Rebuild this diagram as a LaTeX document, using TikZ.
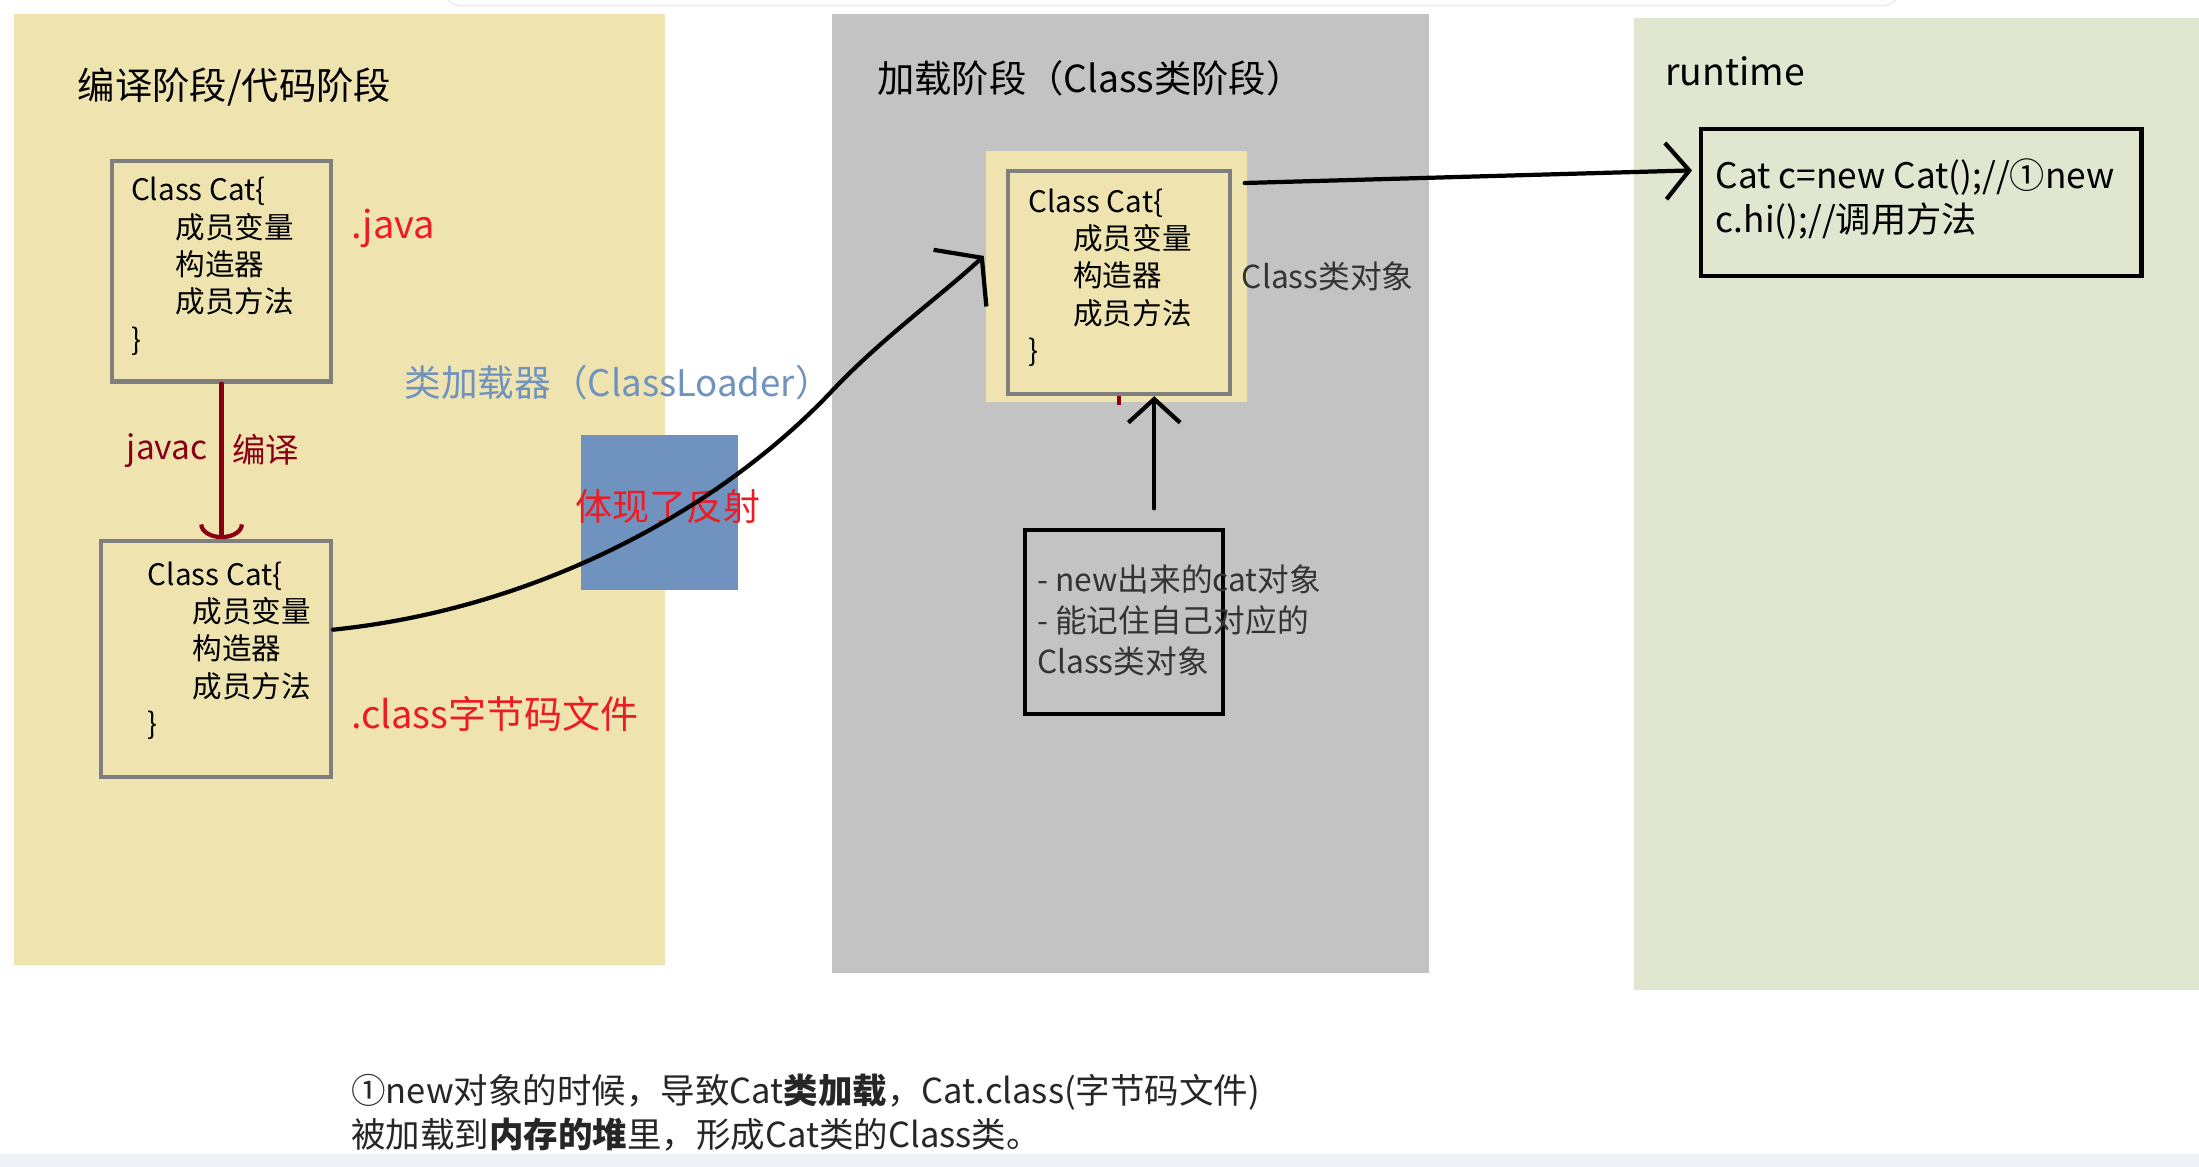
\documentclass[tikz,border=0pt]{standalone}
\usepackage{fontspec}
\setmainfont{Noto Sans CJK SC}
\usepackage{tikz}
\usetikzlibrary{arrows.meta,calc,fit}
\definecolor{stageyellow}{HTML}{EFE4B0}
\definecolor{stagegray}{HTML}{C3C3C3}
\definecolor{stagegreen}{HTML}{E1E6D1}
\definecolor{boxgray}{HTML}{7F7F7F}
\definecolor{paintred}{HTML}{ED1C24}
\definecolor{darkred}{HTML}{880015}
\definecolor{loaderblue}{HTML}{7092BE}
\definecolor{textgray}{HTML}{333333}
\definecolor{pagestrip}{HTML}{EEF0F5}
\newcommand{\catsource}{Class Cat\{\\\hspace*{12.7pt}成员变量\\\hspace*{12.7pt}构造器\\\hspace*{12.7pt}成员方法\\\}}

\begin{document}
\begin{tikzpicture}[x=0.14mm, y=-0.14mm,
    codebox/.style={draw=boxgray, line width=1.2pt, inner sep=0pt},
    blackbox/.style={draw=black, line width=1.2pt, inner sep=0pt},
    codetext/.style={anchor=north west, align=left, inner sep=0pt, font=\fontsize{8.4}{10.6}\selectfont},
    stagetitle/.style={anchor=west, inner sep=0pt, font=\fontsize{10.6}{12}\selectfont},
    redlabel/.style={anchor=west, inner sep=0pt, text=paintred, font=\fontsize{10.8}{12}\selectfont},
    handline/.style={line width=1.2pt, line cap=round, line join=round}]
    \useasboundingbox (0,0) rectangle (1568,832);
    % page
    \fill[white] (0,0) rectangle (1568,832);
    \fill[pagestrip] (0,823) rectangle (1568,832);
    \draw[black!8, fill=white, rounded corners=2mm] (315,-20) rectangle (1356,4);

    % === Stages ===
    \fill[stageyellow] (10,10) rectangle (474,688);
    \fill[stagegray] (593,10) rectangle (1019,694);
    \fill[stagegreen] (1165,13) rectangle (1568,706);
    \node[stagetitle] (compiletitle) at (55,62) {编译阶段/代码阶段};
    \node[stagetitle] (loadtitle) at (625,56) {加载阶段（Class类阶段）};
    \node[stagetitle] (runtitle) at (1187,51) {runtime};

    % === Compile stage ===
    \node[codebox, fit={(80,115) (236,272)}] (javabox) {};
    \node[codetext] (javacode) at (93,126) {\catsource};
    \node[redlabel] (javaext) at (250,163) {.java};

    \node[codebox, fit={(72,386) (236,554)}] (classbox) {};
    \node[codetext] (classcode) at (105,400) {\catsource};
    \node[redlabel] (classext) at (250,509) {.class字节码文件};

    \node[anchor=west, inner sep=0pt, text=darkred, font=\fontsize{9.5}{11}\selectfont] (javaclabel) at (90,321) {javac};
    \node[anchor=west, inner sep=0pt, text=darkred, font=\fontsize{9.5}{11}\selectfont] (compilelabel) at (165,321) {编译};

    % class loader
    \node[anchor=west, inner sep=0pt, text=loaderblue, font=\fontsize{10.4}{12}\selectfont] (loaderlabel) at (288,273) {类加载器（ClassLoader）};
    \node[fill=loaderblue, inner sep=0pt, fit={(414,310) (526,421)}] (reflectbox) {};
    \node[inner sep=0pt, text=paintred, font=\fontsize{10.5}{12}\selectfont] (reflectlabel) at (476,361) {体现了反射};

    % === Load stage ===
    \node[fill=stageyellow, inner sep=0pt, fit={(703,108) (889,287)}] (loadbg) {};
    \node[codebox, fit={(719,122) (877,281)}] (loadbox) {};
    \node[codetext] (loadcode) at (733,134) {\catsource};
    \node[anchor=west, inner sep=0pt, text=textgray, font=\fontsize{9}{11}\selectfont] (classobj) at (885,197) {Class类对象};

    \node[blackbox, fit={(731,378) (872,509)}] (newbox) {};
    \node[anchor=north west, align=left, inner sep=0pt, text=textgray, font=\fontsize{9}{11.7}\selectfont] (newnote) at (739,402) {- new出来的cat对象\\- 能记住自己对应的\\Class类对象};

    % === Runtime ===
    \node[blackbox, fit={(1213,92) (1527,197)}] (runbox) {};
    \node[anchor=north west, align=left, inner sep=0pt, font=\fontsize{10}{12.3}\selectfont] (runcode) at (1223,113) {Cat c=new Cat();//①new\\c.hi();//调用方法};

    % Connectors
    \draw[handline, darkred, -{Arc Barb[width=12.7pt, length=4.2pt]}] (javabox.south) -- (javabox.south |- classbox.north);
    \draw[handline, -{Straight Barb[width=22pt, length=8.5pt]}] ($(classbox.east)+(0,-21)$) .. controls (384,434) and (514,363) .. (594,278) .. controls (629,241) and (672,210) .. ($(loadbg.west)+(-1,-15)$);
    \draw[handline, -{Straight Barb[width=16pt, length=6.7pt]}] ($(loadbg.north east)+(-2,23)$) -- ($(runbox.west)+(-5,-23)$);
    \coordinate (newtop) at ($(newbox.north)+(21.5,-14)$);
    \draw[handline, -{Straight Barb[width=14.7pt, length=6.7pt]}] (newtop) -- (newtop |- loadbox.south);
    \draw[darkred, line width=1.2pt] (loadbox.south) -- ++(0,6);

    % note below
    \node[anchor=north west, align=left, inner sep=0pt, text=black!85, font=\fontsize{9.8}{12.7}\selectfont] (footnote) at (250,765) {①new对象的时候，导致Cat\textbf{类加载}，Cat.class(字节码文件)\\被加载到\textbf{内存的堆}里，形成Cat类的Class类。};
\end{tikzpicture}
\end{document}
